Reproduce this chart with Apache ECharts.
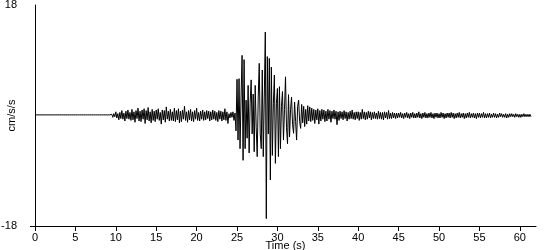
<!DOCTYPE html>
<html>
<head>
<meta charset="utf-8">
<script src="https://cdn.jsdelivr.net/npm/echarts@6/dist/echarts.min.js"></script>
<style>
html,body{margin:0;padding:0;background:#fff;}
#chart{width:550px;height:250px;}
</style>
</head>
<body>
<div id="chart"></div>
<script>
// Sample interval of the record (s)
const dt = 0.125;

// Acceleration (cm/s/s), 8 samples per second
const preEvent = [
  0.1,-0.1,0.1,-0.1,0.1,-0.1,0.1,-0.1,
  0.1,-0.1,0.1,-0.1,0.1,-0.1,0.1,-0.1,
  0.1,-0.1,0.1,-0.1,0.1,-0.1,0.1,-0.1,
  0.1,-0.1,0.1,-0.1,0.1,-0.1,0.1,-0.1,
  0.1,-0.1,0.1,-0.1,0.1,-0.1,0.1,-0.1,
  0.1,-0.1,0.1,-0.1,0.1,-0.1,0.1,-0.1,
  0.1,-0.1,0.1,-0.1,0.1,-0.1,0.1,-0.1,
  0.1,-0.1,0.1,-0.1,0.1,-0.1,0.1,-0.1,
  0.1,-0.1,0.1,-0.1,0.1,-0.1,0.1,-0.1,
  0.1,-0.1,0.1,-0.1,0.2,-0.3,0.3,-0.2
];
const pWave = [
  0.6,-0.4,0.3,-0.7,0.5,-0.5,0.8,-0.6,
  0.4,-0.9,0.7,-0.5,0.9,-0.6,0.5,-0.8,
  1.0,-0.7,0.6,-1.1,0.8,-0.5,1.2,-0.9,
  0.7,-1.0,0.9,-0.6,1.1,-1.3,0.8,-0.7,
  1.3,-0.9,0.6,-1.2,1.0,-0.8,0.7,-1.0,
  0.9,-0.6,1.1,-0.8,0.5,-1.4,0.9,-0.7,
  0.8,-1.1,1.4,-0.6,0.7,-0.9,1.0,-0.8,
  0.6,-0.9,1.2,-1.0,0.8,-0.7,1.1,-1.2,
  0.7,-1.0,0.9,-0.6,1.5,-0.8,0.6,-1.1,
  0.8,-0.7,1.0,-0.9,0.6,-1.0,0.8,-0.6,
  1.2,-0.8,0.5,-0.9,0.7,-0.6,0.9,-0.8,
  0.6,-0.7,0.8,-0.5,0.7,-0.9,0.6,-0.7,
  0.9,-0.6,0.7,-0.8,0.5,-1.0,0.8,-0.6,
  0.7,-0.9,0.6,-0.7,1.1,-0.8,0.6,-1.3
];
const strongMotion = [
  0.3,-0.4,0.5,-0.3,0.6,-0.8,0.4,-2.5,
  5.9,-4.0,6.0,-5.4,3.0,9.8,-7.3,9.1,
  -5.4,2.5,-3.7,4.9,-6.1,2.0,5.8,-3.0,
  3.5,-5.9,4.9,-2.0,-6.7,3.0,8.5,-3.0,
  -5.4,7.4,-6.7,3.0,13.6,-16.8,9.6,-3.0,
  9.3,-10.5,7.9,-6.5,2.0,6.6,-7.8,2.0,
  4.4,-6.7,4.7,-5.4,1.5,3.9,-4.0,1.0,
  6.3,-2.0,-4.6,3.4,-3.5,1.0,3.0,-1.5,
  -2.9,2.2,-1.0,-4.0,1.5,2.5,-1.0,-2.1,
  1.8,-1.2,1.5,-1.8,1.0,-1.4,1.6,-0.9
];
const coda = [
  1.4,-1.0,1.2,-0.8,1.0,-1.3,0.9,-0.7,
  1.1,-1.4,0.8,-0.9,1.0,-0.6,0.9,-1.0,
  0.7,-0.9,1.0,-0.6,0.8,-1.1,0.7,-0.5,
  0.9,-0.6,0.7,-1.5,0.6,-0.8,0.7,-0.5,
  0.6,-0.7,0.8,-0.5,0.6,-0.9,0.5,-0.6,
  0.7,-0.5,0.9,-0.6,0.5,-0.7,0.6,-0.5,
  0.6,-0.8,0.5,-0.6,1.0,-0.5,0.6,-0.7,
  0.5,-0.6,0.7,-0.4,0.6,-0.7,0.5,-0.5,
  0.6,-0.5,0.4,-0.6,0.7,-0.5,0.5,-0.6,
  0.5,-0.7,0.6,-0.4,0.5,-0.6,0.8,-0.5,
  0.4,-0.5,0.5,-0.4,0.4,-0.5,0.4,-0.4,
  0.4,-0.3,0.5,-0.4,0.3,-0.5,0.4,-0.3,
  0.5,-0.4,0.3,-0.5,0.4,-0.3,0.5,-0.4,
  0.3,-0.4,0.4,-0.3,0.6,-0.4,0.3,-0.5,
  0.4,-0.3,0.5,-0.4,0.3,-0.4,0.4,-0.3,
  0.5,-0.4,0.3,-0.5,0.4,-0.3,0.4,-0.4,
  0.3,-0.4,0.5,-0.3,0.4,-0.5,0.3,-0.4,
  0.4,-0.3,0.4,-0.4,0.5,-0.3,0.4,-0.5,
  0.3,-0.4,0.4,-0.3,0.5,-0.4,0.3,-0.3,
  0.4,-0.5,0.3,-0.4,0.4,-0.3,0.5,-0.4,
  0.3,-0.3,0.4,-0.4,0.3,-0.5,0.4,-0.3,
  0.4,-0.4,0.3,-0.3,0.5,-0.4,0.3,-0.4,
  0.3,-0.3,0.4,-0.4,0.2,-0.3,0.4,-0.3,
  0.3,-0.4,0.2,-0.3,0.4,-0.2,0.3,-0.3,
  0.2,-0.3,0.3,-0.4,0.2,-0.3,0.3,-0.2,
  0.3,-0.2,0.2,-0.3,0.3,-0.2,0.2,-0.3,
  0.2,-0.3,0.2,-0.2,0.3,-0.2,0.2,-0.2,
  0.2,-0.2,0.2,-0.2
];

const xTicks = [0,5,10,15,20,25,30,35,40,45,50,55,60];
const yTicks = [-18, 18];

const accel = preEvent.concat(pWave, strongMotion, coda);
const series = accel.map((v, i) => [i * dt, v]);

const font = 'Liberation Sans, Arial, sans-serif';
const chart = echarts.init(document.getElementById('chart'), null, {renderer: 'canvas'});
chart.setOption({
  animation: false,
  backgroundColor: '#ffffff',
  grid: {left: 35, right: 14, top: 5, bottom: 24, containLabel: false, outerBoundsMode: 'none'},
  xAxis: {
    type: 'value', min: 0, max: 62, interval: 5,
    name: 'Time (s)', nameLocation: 'middle', nameGap: 14, nameMoveOverlap: false,
    nameTextStyle: {color: '#000', fontFamily: font, fontSize: 11},
    axisLine: {show: true, onZero: false, lineStyle: {color: '#000', width: 1}},
    axisTick: {show: true, inside: false, length: 5, lineStyle: {color: '#000'}, customValues: xTicks},
    axisLabel: {color: '#000', fontFamily: font, fontSize: 11, margin: 6, customValues: xTicks,
      showMinLabel: true, showMaxLabel: true},
    splitLine: {show: false}
  },
  yAxis: {
    type: 'value', min: -18, max: 18, interval: 36,
    name: 'cm/s/s', nameLocation: 'middle', nameGap: 18, nameMoveOverlap: false,
    nameTextStyle: {color: '#000', fontFamily: font, fontSize: 11},
    axisLine: {show: true, onZero: false, lineStyle: {color: '#000', width: 1}},
    axisTick: {show: true, length: 5, lineStyle: {color: '#000'}, customValues: [-18]},
    axisLabel: {color: '#000', fontFamily: font, fontSize: 11, margin: 18, customValues: yTicks},
    splitLine: {show: false}
  },
  series: [{
    type: 'line',
    data: series,
    showSymbol: false,
    symbol: 'none',
    sampling: null,
    lineStyle: {color: '#000', width: 1},
    silent: true
  }]
});
</script>
</body>
</html>
